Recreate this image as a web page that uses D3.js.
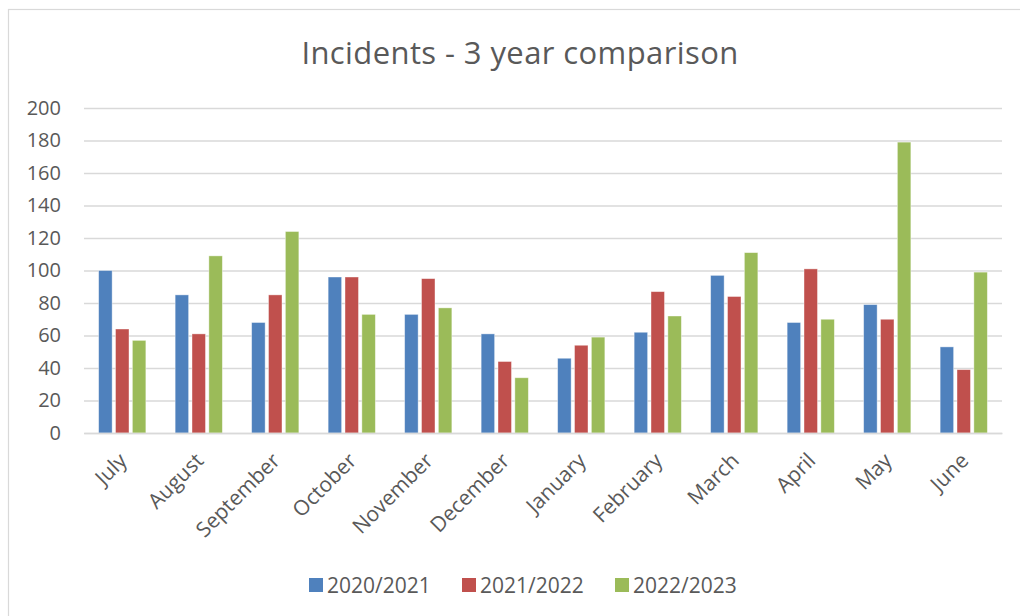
<!DOCTYPE html>
<html>
<head>
<meta charset="utf-8">
<script src="https://cdn.jsdelivr.net/npm/d3@7"></script>
<style>
  body { margin: 0; background: #fff; }
  svg { font-family: "Open Sans", Lato, sans-serif; }
</style>
</head>
<body>
<div class="chart"></div>
<script>
const months = ["July", "August", "September", "October", "November", "December",
  "January", "February", "March", "April", "May", "June"];
const seriesNames = ["2020/2021", "2021/2022", "2022/2023"];
const y2020 = [100, 85, 68, 96, 73, 61, 46, 62, 97, 68, 79, 53];
const y2021 = [64, 61, 85, 96, 95, 44, 54, 87, 84, 101, 70, 39];
const y2022 = [57, 109, 124, 73, 77, 34, 59, 72, 111, 70, 179, 99];
const yTicks = [0, 20, 40, 60, 80, 100, 120, 140, 160, 180, 200];
const colors = ["#4F81BD", "#C0504D", "#9BBB59"];

const seriesValues = [y2020, y2021, y2022];
const data = months.map((m, i) => ({
  month: m,
  values: seriesNames.map((s, j) => ({ key: s, value: seriesValues[j][i] }))
}));

const W = 1020, H = 616;
const margin = { top: 108, right: 18, bottom: 183, left: 84 };
const width = W - margin.left - margin.right,
  height = H - margin.top - margin.bottom;

const root = d3.select(".chart").append("svg")
  .attr("width", W)
  .attr("height", H);

// outer chart border
root.append("rect")
  .attr("x", 8.5).attr("y", 9.5)
  .attr("width", W + 10).attr("height", H + 10)
  .attr("fill", "none")
  .attr("stroke", "#d9d9d9")
  .attr("stroke-width", 1.2);

root.append("text")
  .attr("x", 520)
  .attr("y", 64)
  .attr("text-anchor", "middle")
  .attr("font-size", "31px")
  .attr("letter-spacing", "0.4px")
  .attr("fill", "#595959")
  .text("Incidents - 3 year comparison");

const svg = root.append("g")
  .attr("transform", `translate(${margin.left},${margin.top})`);

const x = d3.scaleBand().domain(months).range([0, width]).paddingInner(0).paddingOuter(0);
// 3 bars + 2 small gaps per group, rest is gap
const barW = x.bandwidth() / (3 + 0.5 + 2.17);
const x1 = d3.scaleBand().domain(seriesNames)
  .range([x.bandwidth() / 2 - 1.75 * barW, x.bandwidth() / 2 + 1.75 * barW])
  .paddingInner(0.25 / 1.25).paddingOuter(0);

const y = d3.scaleLinear().domain([0, 200]).range([height, 0]);

// gridlines
svg.append("g")
  .attr("class", "grid")
  .call(d3.axisLeft(y).tickValues(yTicks).tickSize(-width).tickFormat(""))
  .call(g => g.select(".domain").remove())
  .call(g => g.selectAll("line").attr("stroke", "#d9d9d9").attr("stroke-width", 1.5));

// y labels
svg.append("g")
  .attr("class", "y-axis")
  .call(d3.axisLeft(y).tickValues(yTicks).tickSize(0).tickPadding(23))
  .call(g => g.select(".domain").remove())
  .call(g => g.selectAll("text")
    .attr("font-size", "20px")
    .attr("fill", "#595959")
    .style("font-family", "'Open Sans', sans-serif"));

// bars
const groups = svg.selectAll(".group")
  .data(data)
  .enter().append("g")
  .attr("class", "group")
  .attr("transform", d => `translate(${x(d.month)},0)`);

groups.selectAll("rect")
  .data(d => d.values)
  .enter().append("rect")
  .attr("x", d => x1(d.key))
  .attr("width", x1.bandwidth())
  .attr("y", d => y(d.value))
  .attr("height", d => height - y(d.value))
  .attr("fill", (d, i) => colors[i])
  .attr("stroke", "#ffffff")
  .attr("stroke-opacity", 0.5)
  .attr("stroke-width", 0.8);

// x axis
svg.append("g")
  .attr("class", "x-axis")
  .attr("transform", `translate(0,${height})`)
  .call(d3.axisBottom(x).tickSize(0).tickPadding(0))
  .call(g => g.select(".domain").attr("stroke", "#d9d9d9").attr("stroke-width", 1.5))
  .selectAll("text")
    .attr("font-size", "21px")
    .attr("fill", "#595959")
    .style("font-family", "'Open Sans', sans-serif")
    .style("text-anchor", "end")
    .attr("dy", 0)
    .attr("transform", "translate(6,29) rotate(-45)");

// legend
const legendX = [309, 462, 615];
const legend = root.append("g").attr("class", "legend");
seriesNames.forEach((s, i) => {
  legend.append("rect")
    .attr("x", legendX[i]).attr("y", 578)
    .attr("width", 14).attr("height", 14)
    .attr("fill", colors[i]);
  legend.append("text")
    .attr("x", legendX[i] + 18).attr("y", 592.5)
    .attr("font-size", "21px")
    .attr("fill", "#595959")
    .text(s);
});
</script>
</body>
</html>
